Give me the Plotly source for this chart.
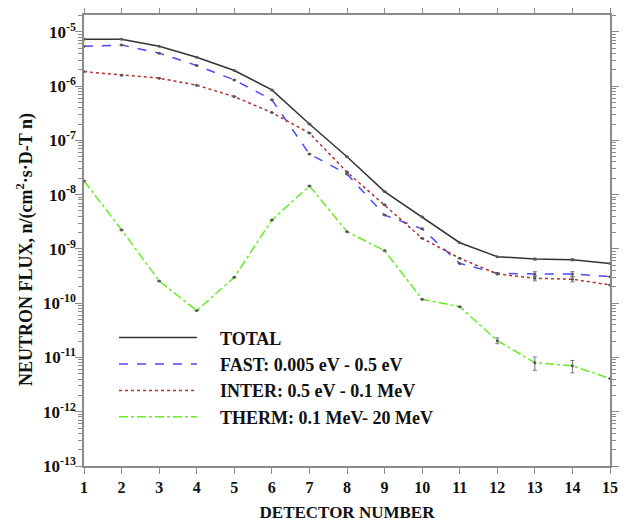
import plotly.graph_objects as go

detector = list(range(1, 16))

total = [7.3e-6, 7.3e-6, 5.4e-6, 3.4e-6, 1.94e-6, 8.5e-7, 2.0e-7, 5.0e-8,
         1.14e-8, 3.9e-9, 1.3e-9, 7.2e-10, 6.5e-10, 6.3e-10, 5.4e-10]
fast = [5.4e-6, 5.7e-6, 4.05e-6, 2.4e-6, 1.3e-6, 5.6e-7, 5.6e-8, 2.4e-8,
        4.2e-9, 2.34e-9, 5.4e-10, 3.56e-10, 3.46e-10, 3.46e-10, 3.08e-10]
inter = [1.85e-6, 1.59e-6, 1.4e-6, 1.04e-6, 6.4e-7, 3.25e-7, 1.36e-7, 2.6e-8,
         6.5e-9, 1.57e-9, 6.7e-10, 3.46e-10, 2.88e-10, 2.76e-10, 2.17e-10]
therm = [1.79e-8, 2.24e-9, 2.57e-10, 7.3e-11, 3.0e-10, 3.4e-9, 1.45e-8, 2.08e-9,
         9.3e-10, 1.18e-10, 8.6e-11, 2.04e-11, 8.0e-12, 7.0e-12, 4.1e-12]

total_err = [0] * 12 + [2.5e-11, 2.5e-11, 0]
fast_err = [0] * 12 + [3.5e-11, 3.5e-11, 0]
inter_err = [0] * 12 + [3.0e-11, 3.0e-11, 0]
therm_err = [0] * 11 + [2.5e-12, 2.2e-12, 1.8e-12, 0]

names = ["TOTAL", "FAST: 0.005 eV - 0.5 eV", "INTER: 0.5 eV - 0.1 MeV",
         "THERM: 0.1 MeV- 20 MeV"]
colors = ["#333333", "#4a4aff", "#b0302c", "#66ee22"]
dashes = ["solid", "dash", "dot", "dashdot"]
series = [total, fast, inter, therm]
errors = [total_err, fast_err, inter_err, therm_err]

ytick_exp = list(range(-13, -4))
ytick_vals = [10.0 ** e for e in ytick_exp]
ytick_text = ["<b>10<sup>%d</sup></b>" % e for e in ytick_exp]
minor_vals = [k * 10.0 ** e for e in range(-13, -4) for k in range(2, 10)]

FONT = "Liberation Serif"
NB = "\u00a0" * 4

fig = go.Figure()
for ys, nm, c, d in zip(series, names, colors, dashes):
    fig.add_trace(go.Scatter(
        x=detector, y=ys, name="<b>%s%s</b>" % (NB, nm), mode="lines",
        line=dict(color=c, width=1.5, dash=d),
    ))
for ys, err in zip(series, errors):
    fig.add_trace(go.Scatter(
        x=detector, y=ys, mode="markers", showlegend=False, hoverinfo="skip",
        marker=dict(size=3, color="#555555"),
        error_y=dict(type="data", array=err, visible=True, color="#777777",
                     thickness=1, width=2),
    ))

axis_common = dict(
    showgrid=False, zeroline=False, showline=True, linecolor="#8a8a8a",
    linewidth=1.5, mirror="ticks", ticks="outside", tickcolor="#8a8a8a",
    tickwidth=1, automargin=False,
)

fig.update_layout(
    width=629, height=526,
    margin=dict(l=76, r=27, t=7, b=68),
    paper_bgcolor="white", plot_bgcolor="white",
    font=dict(family=FONT, color="#111111", size=15),
    showlegend=True,
    legend=dict(x=0.057, y=0.325, xanchor="left", yanchor="top",
                bgcolor="rgba(0,0,0,0)", itemwidth=78,
                font=dict(family=FONT, size=18, color="#111111"),
                tracegroupgap=0),
    xaxis=dict(
        range=[1, 15], tickmode="array", tickvals=detector,
        ticktext=["<b>%d</b>" % v for v in detector], ticklen=6,
        tickfont=dict(family=FONT, size=16),
        title=dict(text="<b>DETECTOR NUMBER</b>", standoff=11,
                   font=dict(family=FONT, size=17, color="#111111")),
        **axis_common,
    ),
    yaxis=dict(
        type="log", range=[-13, -4.69], tickmode="array",
        tickvals=ytick_vals, ticktext=ytick_text, ticklen=7,
        ticklabelstandoff=-4,
        tickfont=dict(family=FONT, size=17),
        minor=dict(tickmode="array", tickvals=minor_vals, ticks="outside",
                   ticklen=4, tickcolor="#8a8a8a", showgrid=False),
        **axis_common,
    ),
    annotations=[dict(
        text="<b>NEUTRON FLUX, n/(cm<sup>2</sup>·s·D-T n)</b>",
        xref="paper", yref="paper", x=-0.112, y=0.479, textangle=-90,
        showarrow=False, xanchor="center", yanchor="middle",
        font=dict(family=FONT, size=18, color="#111111"),
    )],
)

fig.write_html("out.html")
